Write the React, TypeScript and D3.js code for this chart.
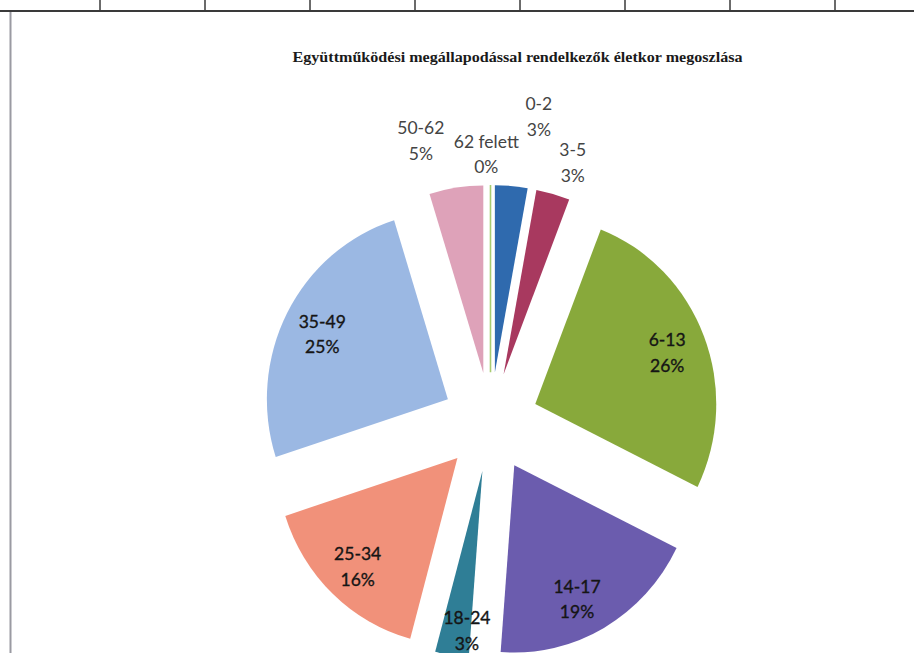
import React from 'react';
import * as d3 from 'd3';

// ---- data ----
const title = 'Együttműködési megállapodással rendelkezők életkor megoszlása';
const categories = ['0-2', '3-5', '6-13', '14-17', '18-24', '25-34', '35-49', '50-62', '62 felett'];
const shares = [2.9, 3.0, 26.4, 18.9, 3.0, 15.8, 25.2, 4.8, 0];
const sliceColors = ['#2f6aae', '#a8395f', '#88a93b', '#6b5cae', '#2f7e96', '#f1917a', '#9bb8e3', '#dea2b9', '#a8cc70'];
const tableDividerCount = 8;

// ---- layout (not data) ----
const W = 914;
const H = 653;
const cx = 490.5;
const cy = 422;
const R = 181;
const sy = 1.035; // slight vertical stretch of the scanned chart
const explode = 48;
const fs = 17.5;
const lineGap = 25.5;
// outside labels: [angle in degrees, distance from pie centre]
const outsideLabel: Record<string, [number, number]> = {
  '0-2': [9.0, 309],
  '3-5': [17.6, 272],
  '62 felett': [359.1, 268],
  '50-62': [346.1, 290],
};
const insideNudge: Record<string, [number, number]> = {
  '14-17': [-9, 4],
  '18-24': [9, 12],
  '35-49': [3, 4],
  '6-13': [-3, 3],
};

export default function App() {
  const pie = d3
    .pie<number>()
    .sort(null)
    .value((d) => d)
    .startAngle(0)
    .endAngle(2 * Math.PI);
  const arcs = pie(shares);
  const arc = d3.arc<d3.PieArcDatum<number>>().innerRadius(0).outerRadius(R);

  const dividerX = d3.scaleLinear().domain([0, tableDividerCount - 1]).range([100, 835]);

  return (
    <svg width={W} height={H} style={{ position: 'absolute', left: 0, top: 0, background: '#fff' }}>
      <rect x={0} y={0} width={W} height={H} fill="#ffffff" />
      {/* table fragment at top */}
      <line x1={0} x2={W} y1={11} y2={11} stroke="#3a3a3a" strokeWidth={2} />
      {d3.range(tableDividerCount).map((i) => (
        <line key={i} x1={dividerX(i)} x2={dividerX(i)} y1={0} y2={11} stroke="#3a3a3a" strokeWidth={1.5} />
      ))}
      <line x1={10.5} x2={10.5} y1={12} y2={H} stroke="#9a9aa2" strokeWidth={2} />

      <text
        x={517.5}
        y={62}
        textAnchor="middle"
        fontFamily="'Liberation Serif', 'DejaVu Serif', serif"
        fontWeight="bold"
        fontSize={15}
        fill="#1a1a1a"
        textLength={450}
        lengthAdjust="spacingAndGlyphs"
      >
        {title}
      </text>

      <g transform={`translate(${cx},${cy}) scale(1,${sy})`}>
        {arcs.map((a, i) => {
          const mid = (a.startAngle + a.endAngle) / 2;
          const dx = explode * Math.sin(mid);
          const dy = -explode * Math.cos(mid);
          const zero = a.endAngle - a.startAngle < 1e-6;
          return (
            <path
              key={categories[i]}
              d={arc(a) || ''}
              transform={`translate(${dx},${dy})`}
              fill={sliceColors[i]}
              stroke={zero ? sliceColors[i] : 'none'}
              strokeWidth={zero ? 1.6 : 0}
            />
          );
        })}
      </g>
      <g transform={`translate(${cx},${cy})`}>
        {arcs.map((a, i) => {
          const name = categories[i];
          const mid = (a.startAngle + a.endAngle) / 2;
          let lx: number;
          let ly: number;
          let inside = true;
          if (outsideLabel[name]) {
            const [deg, dist] = outsideLabel[name];
            const ang = (deg * Math.PI) / 180;
            lx = dist * Math.sin(ang);
            ly = -dist * Math.cos(ang);
            inside = false;
          } else {
            const d = explode + R * 0.8;
            lx = d * Math.sin(mid);
            ly = -d * Math.cos(mid) * sy;
            const n = insideNudge[name];
            if (n) {
              lx += n[0];
              ly += n[1];
            }
          }
          const pct = `${Math.round(shares[i])}%`;
          const base = 0.36 * fs;
          const col = inside ? '#151515' : '#444444';
          return (
            <g key={'l' + name} fontFamily="Lato, 'Open Sans', sans-serif" fontSize={fs} textAnchor="middle">
              <text x={lx} y={ly - lineGap / 2 + base} fill={col} stroke={inside ? col : 'none'} strokeWidth={inside ? 0.35 : 0}>
                {name}
              </text>
              <text x={lx} y={ly + lineGap / 2 + base} fill={col} stroke={inside ? col : 'none'} strokeWidth={inside ? 0.35 : 0}>
                {pct}
              </text>
            </g>
          );
        })}
      </g>
    </svg>
  );
}
